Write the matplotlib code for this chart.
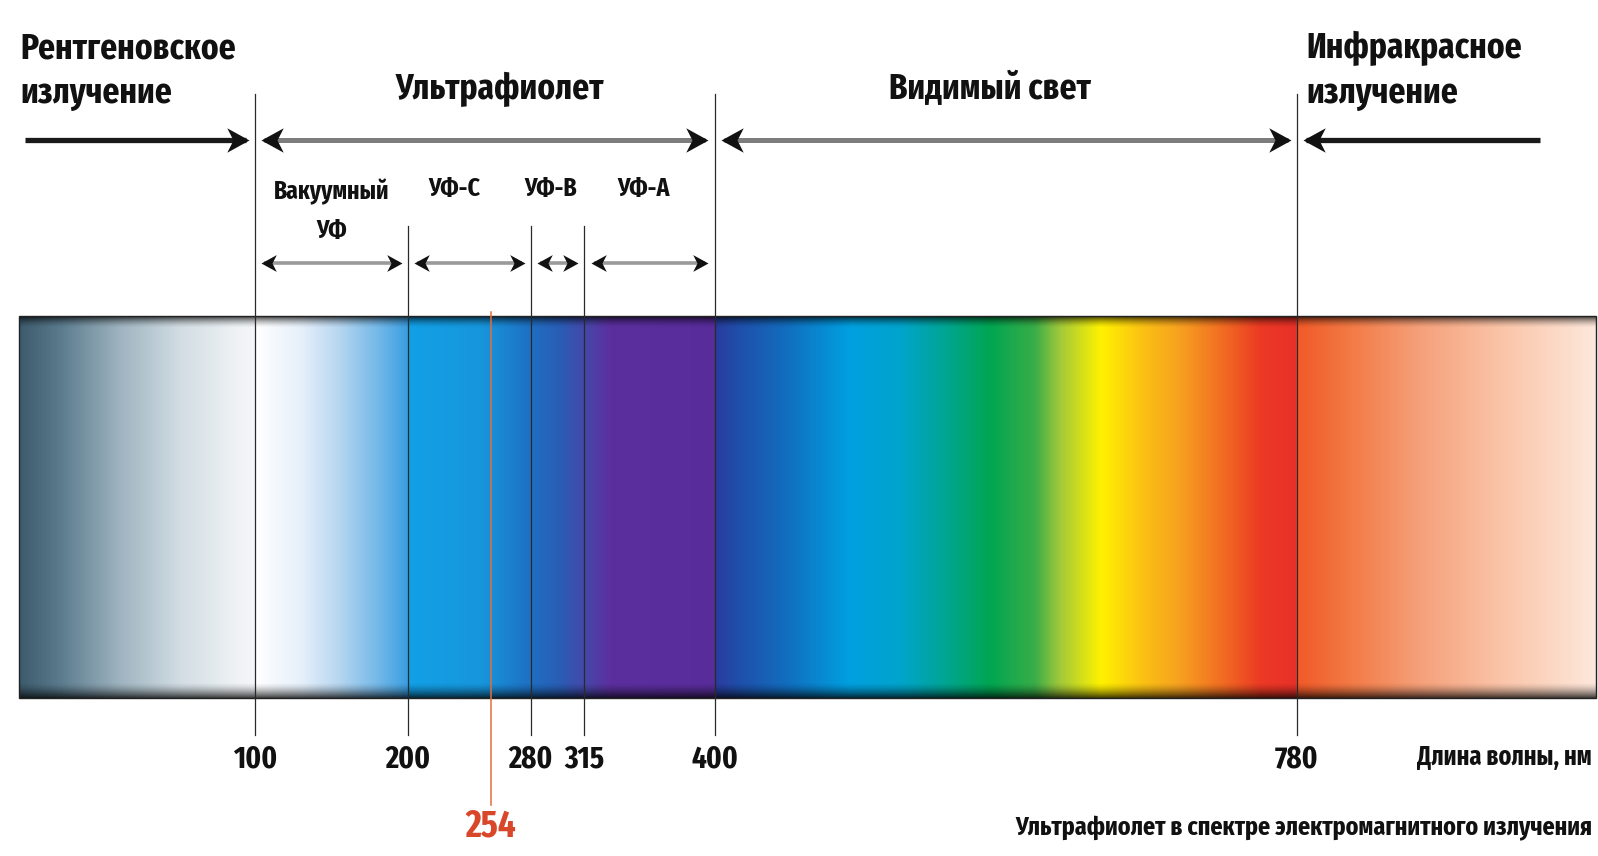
import numpy as np
import matplotlib
matplotlib.use('Agg')
import matplotlib.pyplot as plt
from matplotlib.path import Path
from matplotlib.patches import Rectangle

# wavelength boundaries, nm
bounds = [100, 200, 280, 315, 400, 780]
bound_labels = ['100', '200', '280', '315', '400', '780']
germicidal = 254

# main ranges (the outer ends are just where the arrows stop)
main_names = ['Рентгеновское\nизлучение', 'Ультрафиолет', 'Видимый свет', 'Инфракрасное\nизлучение']
main_ranges = [(-52, 100), (100, 400), (400, 780), (780, 941)]
main_label_x = [-53.4, 260, 580, 786.5]

# UV sub ranges
sub_names = ['Вакуумный\nУФ', 'УФ-C', 'УФ-B', 'УФ-A']
sub_ranges = [(100, 200), (200, 280), (280, 315), (315, 400)]
sub_label_x = [150, 230, 293, 354]

# colour stops along the bar (nm, colour)
stop_nm = [-54, -27, 12, 51, 87, 99.5, 100.5, 130, 155, 182, 199.5, 200.5, 247, 260, 280, 300,
           318, 332, 384, 399.5, 400.5, 416, 449, 488, 521, 547, 580, 609, 625, 652, 678, 704,
           730, 756, 779.5, 780.5, 815, 860, 913, 975]
stop_col = ['#3c5a6c', '#5b7c8e', '#9fb4c0', '#d2dde3', '#eef2f5', '#f4f7f9', '#ffffff', '#e6f0fa',
            '#b6d6f0', '#6fb6e8', '#3a9ee0', '#12a0e6', '#1796dc', '#1a88d4', '#1f6fc2', '#2b5cb5',
            '#4a44a8', '#5c2f9f', '#5a2d9c', '#582c9a', '#2a3c9e', '#1f4fab', '#1170c0', '#00a0e0',
            '#00a4cc', '#00a59a', '#00a651', '#3aad48', '#a0c83a', '#fff200', '#fbc313', '#f7a020',
            '#f26f22', '#ec3a24', '#e8302a', '#f05a28', '#f37a45', '#f5a07a', '#fac4a8', '#fde8dc']

# layout (pixels from top), the x axis is in nm
W, H = 1598, 856
px_per_nm = 1.532
nm0 = -101.8 / px_per_nm
bar_top, bar_bot = 316, 698
row1_y, row2_y = 140, 263
gap = 4

plt.rcParams['font.family'] = ['Fira Sans Extra Condensed', 'Roboto', 'DejaVu Sans']

fig = plt.figure(figsize=(W / 100, H / 100), dpi=100)
ax = fig.add_axes([0, 0, 1, 1])
ax.set_xlim(nm0, nm0 + W / px_per_nm)
ax.set_ylim(H, 0)
ax.axis('off')

# spectrum bar
grid = np.linspace(stop_nm[0], stop_nm[-1], 2400)
rgb = np.array([matplotlib.colors.to_rgb(c) for c in stop_col])
img = np.stack([np.interp(grid, stop_nm, rgb[:, k]) for k in range(3)], axis=-1)[None, :, :]
ax.imshow(img, extent=(stop_nm[0], stop_nm[-1], bar_bot, bar_top), aspect='auto',
          interpolation='bilinear', zorder=1)

# dark rims at top and bottom of the bar
t = np.linspace(0, 1, 60)
shade = np.zeros((60, 1, 4))
shade[:, 0, 3] = 0.75 * (1 - t) ** 1.6
ax.imshow(shade, extent=(stop_nm[0], stop_nm[-1], bar_top + 12, bar_top), aspect='auto', zorder=2)
ax.imshow(shade[::-1], extent=(stop_nm[0], stop_nm[-1], bar_bot, bar_bot - 16), aspect='auto', zorder=2)
ax.add_patch(Rectangle((stop_nm[0], bar_top), stop_nm[-1] - stop_nm[0], bar_bot - bar_top,
                       fill=False, ec='#222222', lw=1.0, zorder=3))

# boundary lines
for b in bounds:
    top = 94 if b in (100, 400, 780) else 226
    ax.plot([b, b], [top, 735], color='#2a2a2a', lw=0.9, zorder=4)
ax.plot([germicidal, germicidal], [312, 805], color='#e0703a', lw=1.1, zorder=4)

# arrows
head = Path([(0, 0), (-1, 0.55), (-0.72, 0), (-1, -0.55), (0, 0)],
            [Path.MOVETO, Path.LINETO, Path.LINETO, Path.LINETO, Path.CLOSEPOLY])
head_l = Path(head.vertices * [-1, 1], head.codes)


def arrow(a, b, y, color, lw, ms, left=True, right=True):
    xa = a + gap if left else a
    xb = b - gap if right else b
    ax.plot([xa + 2, xb - 2], [y, y], color=color, lw=lw, solid_capstyle='butt', zorder=5)
    if left:
        ax.plot([xa], [y], marker=head_l, ms=ms, color='#111111', mew=0, zorder=6)
    if right:
        ax.plot([xb], [y], marker=head, ms=ms, color='#111111', mew=0, zorder=6)


arrow(*main_ranges[0], row1_y, '#1a1a1a', 3.8, 32, left=False)
arrow(*main_ranges[1], row1_y, '#7d7d7d', 3.6, 32)
arrow(*main_ranges[2], row1_y, '#7d7d7d', 3.6, 32)
arrow(*main_ranges[3], row1_y, '#1a1a1a', 3.8, 32, right=False)
for a, b in sub_ranges:
    arrow(a, b, row2_y, '#9a9a9a', 2.6, 22)

# labels
txt = dict(fontweight='bold', color='#111111')
ax.text(main_label_x[0], 71, main_names[0], ha='left', va='center', fontsize=26, linespacing=1.36, **txt)
ax.text(main_label_x[1], 89, main_names[1], ha='center', va='center', fontsize=26, **txt)
ax.text(main_label_x[2], 89, main_names[2], ha='center', va='center', fontsize=26, **txt)
ax.text(main_label_x[3], 71, main_names[3], ha='left', va='center', fontsize=26, linespacing=1.36, **txt)

ax.text(sub_label_x[0], 211, sub_names[0], ha='center', va='center', fontsize=18.5, linespacing=1.7, **txt)
for name, x in zip(sub_names[1:], sub_label_x[1:]):
    ax.text(x, 189, name, ha='center', va='center', fontsize=18.5, **txt)

for b, lab in zip(bounds, bound_labels):
    ax.text(b, 759, lab, ha='center', va='center', fontsize=22.5, **txt)
ax.text(germicidal, 826, str(germicidal), ha='center', va='center', fontsize=27,
        fontweight='bold', color='#d9472b')

ax.text(nm0 + 1592 / px_per_nm, 757, 'Длина волны, нм', ha='right', va='center', fontsize=19, **txt)
ax.text(nm0 + 1592 / px_per_nm, 828, 'Ультрафиолет в спектре электромагнитного излучения',
        ha='right', va='center', fontsize=18.8, **txt)

fig.savefig('out.png', dpi=100)
